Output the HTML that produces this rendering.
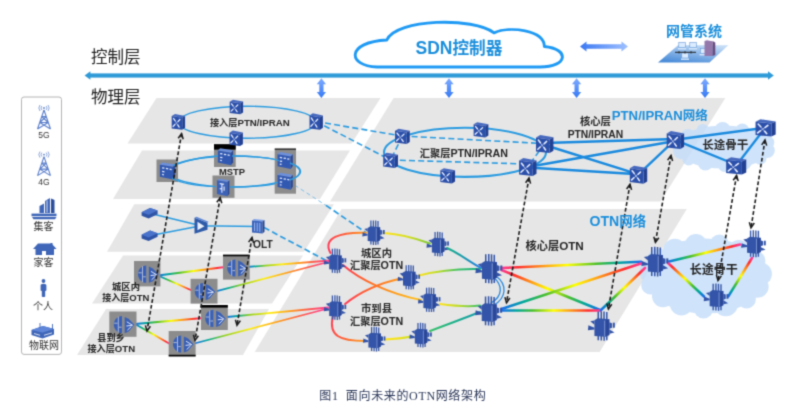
<!DOCTYPE html>
<html lang="zh-CN">
<head>
<meta charset="utf-8">
<title>图1 面向未来的OTN网络架构</title>
<style>
html,body{margin:0;padding:0;background:#fff;}
body{width:795px;height:419px;overflow:hidden;}
svg{display:block;will-change:transform;}
svg text{font-family:"Liberation Sans","Noto Sans CJK SC",sans-serif;}
svg{fill:#262626;}
</style>
</head>
<body>
<svg width="795" height="419" viewBox="0 0 795 419" font-weight="bold" text-anchor="middle">
<defs>
<filter id="soft" x="0" y="0" width="795" height="419" filterUnits="userSpaceOnUse" color-interpolation-filters="sRGB"><feConvolveMatrix order="3" kernelMatrix=".0277 .1110 .0277 .1110 .4452 .1110 .0277 .1110 .0277" divisor="1" edgeMode="duplicate" preserveAlpha="false"/></filter>
<linearGradient id="gh" x1="0" y1="0" x2="1" y2="0"><stop offset="0" stop-color="#3a78f2"/><stop offset="1" stop-color="#9fc0ff"/></linearGradient>
<linearGradient id="gv" x1="0" y1="0" x2="0" y2="1"><stop offset="0" stop-color="#7fabff"/><stop offset="1" stop-color="#3579f4"/></linearGradient>
<linearGradient id="gplat" x1=".75" y1="0" x2=".25" y2="1"><stop offset="0" stop-color="#c4dcf6"/><stop offset="1" stop-color="#4a8cd8"/></linearGradient>
<linearGradient id="r0" gradientUnits="userSpaceOnUse" x1="158" y1="275.5" x2="225" y2="267"><stop offset="0%" stop-color="#1a6cf0"/><stop offset="16%" stop-color="#00a89a"/><stop offset="32%" stop-color="#4cc02a"/><stop offset="53%" stop-color="#ffff00"/><stop offset="72%" stop-color="#ff8c1a"/><stop offset="88%" stop-color="#ff2d2d"/><stop offset="100%" stop-color="#ff3d9a"/></linearGradient>
<linearGradient id="r1" gradientUnits="userSpaceOnUse" x1="158" y1="275.5" x2="193" y2="291"><stop offset="0%" stop-color="#1a6cf0"/><stop offset="16%" stop-color="#00a89a"/><stop offset="32%" stop-color="#4cc02a"/><stop offset="53%" stop-color="#ffff00"/><stop offset="72%" stop-color="#ff8c1a"/><stop offset="88%" stop-color="#ff2d2d"/><stop offset="100%" stop-color="#ff3d9a"/></linearGradient>
<linearGradient id="r2" gradientUnits="userSpaceOnUse" x1="247" y1="267" x2="330" y2="260.5"><stop offset="0%" stop-color="#1a6cf0"/><stop offset="10%" stop-color="#00a89a"/><stop offset="22%" stop-color="#8fd020"/><stop offset="42%" stop-color="#ffee10"/><stop offset="62%" stop-color="#ffa01a"/><stop offset="80%" stop-color="#ff5a4a"/><stop offset="100%" stop-color="#ff3d9a"/></linearGradient>
<linearGradient id="r3" gradientUnits="userSpaceOnUse" x1="215.7" y1="291.4" x2="330" y2="261.5"><stop offset="0%" stop-color="#1a6cf0"/><stop offset="10%" stop-color="#00a89a"/><stop offset="22%" stop-color="#8fd020"/><stop offset="42%" stop-color="#ffee10"/><stop offset="62%" stop-color="#ffa01a"/><stop offset="80%" stop-color="#ff5a4a"/><stop offset="100%" stop-color="#ff3d9a"/></linearGradient>
<linearGradient id="r4" gradientUnits="userSpaceOnUse" x1="135" y1="324" x2="203" y2="318"><stop offset="0%" stop-color="#1a6cf0"/><stop offset="16%" stop-color="#00a89a"/><stop offset="32%" stop-color="#4cc02a"/><stop offset="53%" stop-color="#ffff00"/><stop offset="72%" stop-color="#ff8c1a"/><stop offset="88%" stop-color="#ff2d2d"/><stop offset="100%" stop-color="#ff3d9a"/></linearGradient>
<linearGradient id="r5" gradientUnits="userSpaceOnUse" x1="135" y1="324" x2="170" y2="344"><stop offset="0%" stop-color="#1a6cf0"/><stop offset="16%" stop-color="#00a89a"/><stop offset="32%" stop-color="#4cc02a"/><stop offset="53%" stop-color="#ffff00"/><stop offset="72%" stop-color="#ff8c1a"/><stop offset="88%" stop-color="#ff2d2d"/><stop offset="100%" stop-color="#ff3d9a"/></linearGradient>
<linearGradient id="r6" gradientUnits="userSpaceOnUse" x1="227" y1="317" x2="328" y2="307.5"><stop offset="0%" stop-color="#1a6cf0"/><stop offset="10%" stop-color="#00a89a"/><stop offset="22%" stop-color="#8fd020"/><stop offset="42%" stop-color="#ffee10"/><stop offset="62%" stop-color="#ffa01a"/><stop offset="80%" stop-color="#ff5a4a"/><stop offset="100%" stop-color="#ff3d9a"/></linearGradient>
<linearGradient id="r7" gradientUnits="userSpaceOnUse" x1="194.3" y1="343.5" x2="328" y2="308.5"><stop offset="0%" stop-color="#1a6cf0"/><stop offset="10%" stop-color="#00a89a"/><stop offset="22%" stop-color="#8fd020"/><stop offset="42%" stop-color="#ffee10"/><stop offset="62%" stop-color="#ffa01a"/><stop offset="80%" stop-color="#ff5a4a"/><stop offset="100%" stop-color="#ff3d9a"/></linearGradient>
<linearGradient id="r8" gradientUnits="userSpaceOnUse" x1="328" y1="250" x2="366" y2="233"><stop offset="0%" stop-color="#ff3a5a"/><stop offset="50%" stop-color="#ff5a3a"/><stop offset="100%" stop-color="#ff9a1a"/></linearGradient>
<linearGradient id="r9" gradientUnits="userSpaceOnUse" x1="384" y1="233" x2="430" y2="243"><stop offset="0%" stop-color="#ffe21a"/><stop offset="50%" stop-color="#d8e020"/><stop offset="100%" stop-color="#7cc83a"/></linearGradient>
<linearGradient id="r10" gradientUnits="userSpaceOnUse" x1="447" y1="248" x2="481" y2="268"><stop offset="0%" stop-color="#19b08a"/><stop offset="50%" stop-color="#1a9ab0"/><stop offset="100%" stop-color="#2a7fe8"/></linearGradient>
<linearGradient id="r11" gradientUnits="userSpaceOnUse" x1="343" y1="265" x2="421" y2="300"><stop offset="0%" stop-color="#ff3a5a"/><stop offset="33.3%" stop-color="#ff6a2a"/><stop offset="66.7%" stop-color="#ff9a1a"/><stop offset="100%" stop-color="#ffc21a"/></linearGradient>
<linearGradient id="r12" gradientUnits="userSpaceOnUse" x1="345" y1="304" x2="401" y2="278"><stop offset="0%" stop-color="#ff3a5a"/><stop offset="50%" stop-color="#ff6a2a"/><stop offset="100%" stop-color="#ff9a1a"/></linearGradient>
<linearGradient id="r13" gradientUnits="userSpaceOnUse" x1="419" y1="275" x2="480" y2="269"><stop offset="0%" stop-color="#ffe21a"/><stop offset="33.3%" stop-color="#b6dc2a"/><stop offset="66.7%" stop-color="#3ac06a"/><stop offset="100%" stop-color="#19b08a"/></linearGradient>
<linearGradient id="r14" gradientUnits="userSpaceOnUse" x1="440" y1="304" x2="480" y2="305"><stop offset="0%" stop-color="#ffe21a"/><stop offset="50%" stop-color="#b6dc2a"/><stop offset="100%" stop-color="#3ac06a"/></linearGradient>
<linearGradient id="r15" gradientUnits="userSpaceOnUse" x1="330" y1="316" x2="365" y2="341"><stop offset="0%" stop-color="#ff3a5a"/><stop offset="50%" stop-color="#ff5a3a"/><stop offset="100%" stop-color="#ff9a1a"/></linearGradient>
<linearGradient id="r16" gradientUnits="userSpaceOnUse" x1="385" y1="339" x2="412" y2="336"><stop offset="0%" stop-color="#ffe21a"/><stop offset="50%" stop-color="#f0e21a"/><stop offset="100%" stop-color="#c8e020"/></linearGradient>
<linearGradient id="r17" gradientUnits="userSpaceOnUse" x1="430" y1="331" x2="480" y2="312"><stop offset="0%" stop-color="#3ac06a"/><stop offset="50%" stop-color="#19b08a"/><stop offset="100%" stop-color="#1a9ab0"/></linearGradient>
<linearGradient id="r18" gradientUnits="userSpaceOnUse" x1="501.5" y1="268" x2="641" y2="261.8"><stop offset="0%" stop-color="#ff3d9a"/><stop offset="12%" stop-color="#ff2d2d"/><stop offset="28%" stop-color="#ff8c1a"/><stop offset="47%" stop-color="#ffff00"/><stop offset="68%" stop-color="#4cc02a"/><stop offset="84%" stop-color="#00a89a"/><stop offset="100%" stop-color="#1a6cf0"/></linearGradient>
<linearGradient id="r19" gradientUnits="userSpaceOnUse" x1="501.5" y1="270" x2="600" y2="310"><stop offset="0%" stop-color="#ff3d9a"/><stop offset="12%" stop-color="#ff2d2d"/><stop offset="28%" stop-color="#ff8c1a"/><stop offset="47%" stop-color="#ffff00"/><stop offset="68%" stop-color="#4cc02a"/><stop offset="84%" stop-color="#00a89a"/><stop offset="100%" stop-color="#1a6cf0"/></linearGradient>
<linearGradient id="r20" gradientUnits="userSpaceOnUse" x1="501.5" y1="309" x2="641" y2="263.5"><stop offset="0%" stop-color="#1a6cf0"/><stop offset="16%" stop-color="#00a89a"/><stop offset="32%" stop-color="#4cc02a"/><stop offset="53%" stop-color="#ffff00"/><stop offset="72%" stop-color="#ff8c1a"/><stop offset="88%" stop-color="#ff2d2d"/><stop offset="100%" stop-color="#ff3d9a"/></linearGradient>
<linearGradient id="r21" gradientUnits="userSpaceOnUse" x1="501.5" y1="310.5" x2="600" y2="310.5"><stop offset="0%" stop-color="#1a6cf0"/><stop offset="16%" stop-color="#00a89a"/><stop offset="32%" stop-color="#4cc02a"/><stop offset="53%" stop-color="#ffff00"/><stop offset="72%" stop-color="#ff8c1a"/><stop offset="88%" stop-color="#ff2d2d"/><stop offset="100%" stop-color="#ff3d9a"/></linearGradient>
<linearGradient id="r22" gradientUnits="userSpaceOnUse" x1="601" y1="310" x2="645" y2="268"><stop offset="0%" stop-color="#1a6cf0"/><stop offset="16%" stop-color="#00a89a"/><stop offset="32%" stop-color="#4cc02a"/><stop offset="53%" stop-color="#ffff00"/><stop offset="72%" stop-color="#ff8c1a"/><stop offset="88%" stop-color="#ff2d2d"/><stop offset="100%" stop-color="#ff3d9a"/></linearGradient>
<linearGradient id="r23" gradientUnits="userSpaceOnUse" x1="668" y1="261.8" x2="740" y2="244.5"><stop offset="0%" stop-color="#1a6cf0"/><stop offset="16%" stop-color="#00a89a"/><stop offset="32%" stop-color="#4cc02a"/><stop offset="53%" stop-color="#ffff00"/><stop offset="72%" stop-color="#ff8c1a"/><stop offset="88%" stop-color="#ff2d2d"/><stop offset="100%" stop-color="#ff3d9a"/></linearGradient>
<linearGradient id="r24" gradientUnits="userSpaceOnUse" x1="668" y1="263" x2="704" y2="296.5"><stop offset="0%" stop-color="#ff3d9a"/><stop offset="12%" stop-color="#ff2d2d"/><stop offset="28%" stop-color="#ff8c1a"/><stop offset="47%" stop-color="#ffff00"/><stop offset="68%" stop-color="#4cc02a"/><stop offset="84%" stop-color="#00a89a"/><stop offset="100%" stop-color="#1a6cf0"/></linearGradient>
<linearGradient id="r25" gradientUnits="userSpaceOnUse" x1="752" y1="258" x2="728.3" y2="296.4"><stop offset="0%" stop-color="#ff3d9a"/><stop offset="12%" stop-color="#ff2d2d"/><stop offset="28%" stop-color="#ff8c1a"/><stop offset="47%" stop-color="#ffff00"/><stop offset="68%" stop-color="#4cc02a"/><stop offset="84%" stop-color="#00a89a"/><stop offset="100%" stop-color="#1a6cf0"/></linearGradient>
<symbol id="ptn" overflow="visible"><polygon points="-6.7,-4.7 -3.4,-6.6 6.7,-4.8 3.8,-3.2" fill="#4668be"/><polygon points="3.8,-3.2 6.7,-4.8 6.7,5.5 3.8,7.2" fill="#234194"/><polygon points="-6.7,-4.7 3.8,-3.2 3.8,7.2 -6.7,6" fill="#2c50aa"/><path d="M-5,-2.8L.8,5M1.6,-1.8L-5.4,4.4" stroke="#c4d2f2" stroke-width=".6"/><path d="M-4.9,-2.7L-3.3,-.7M1.5,-1.7L-.3,0M-5.3,4.3L-3.5,2.6M.7,4.9L-.6,3" stroke="#e6ecfb" stroke-width="1.15" stroke-linecap="round"/></symbol>
<symbol id="mstp" overflow="visible"><polygon points="-6.5,-5.5 -4.5,-7.5 6.8,-5.6 5,-3.6" fill="#6d90dc"/><polygon points="5,-3.6 6.8,-5.6 6.8,4.8 5,7.4" fill="#2a4894"/><polygon points="-6.5,-5.5 5,-3.6 5,7.4 -6.5,5" fill="#3259b2"/><path d="M-4.5,-2.8l2,.35M-1.2,-2.2l2,.35M2,-1.6l1.8,.3M-4.5,.4l2,.35M-4.5,3l1.5,.3" stroke="#e8eefc" stroke-width="1.1"/></symbol>
<symbol id="mstp2" overflow="visible"><polygon points="-5.5,-6.5 -3.5,-8 5.8,-6.6 4,-5" fill="#6d90dc"/><polygon points="4,-5 5.8,-6.6 5.8,6 4,8" fill="#2a4894"/><polygon points="-5.5,-6.5 4,-5 4,8 -5.5,6" fill="#3c62b8"/><path d="M-3,-3.5l4,.6M-1,-3.2v8M-3,1l2,.3M1,-1v4" stroke="#e8eefc"/></symbol>
<symbol id="otn" overflow="visible"><g fill="#3354a8"><path d="M-2.2,-12V-5M.3,-12.2V-5M2.6,-12V-5M4.9,-11.6V-5M-2.2,8V12M.3,8V12.3M2.7,8V12.4M4.9,8V12" stroke="#3354a8" stroke-width="1.25" fill="none"/><polygon points="-5.4,-4.6 -2.8,-6.3 7,-5.4 7,7.6 3.2,9.2 -5.4,8.4"/><polygon points="3.2,-4 7,-5.4 7,7.6 3.2,9.2" fill="#2a479a"/><path d="M3.2,-4.4V9" stroke="#8ea6e0" stroke-width=".7"/><polygon points="-8.8,-3.7 -5.4,-4.4 -5.4,-.8"/><polygon points="-10.8,3.8 -10.4,-.4 -5.4,1.6 -5.4,3"/><polygon points="7,-3 9.2,-2.2 9.2,1.6 7,2.4"/><rect x="9.9" y="-2.6" width="1.7" height="4.2"/><polygon points="7,3 11.4,5.6 7,6.6"/></g></symbol>
<symbol id="oacc" overflow="visible"><g fill="#3a60b6"><path d="M-1,-8.2C-5.4,-8.2 -9.2,-4.2 -9.2,.4C-9.2,5 -5.4,9 -1,9Z"/><path d="M1.7,-7.2L5.6,-5.4L11.3,.6L5.6,7.4L1.7,9Z"/><path d="M-4.7,-7.6v15.8M-8.8,-1h3.4M-4,3h2.6" stroke="#b9c3da" stroke-width=".9"/><path d="M3.8,-2.4l5.4,3.2M3.4,1.8l6.4,-.8M4.4,6l4,-3.8" stroke="#eef2fc" stroke-width=".9"/></g></symbol>
<symbol id="dev" overflow="visible"><polygon points="-8,-1 .5,-5.2 8,-2.6 8,1 -1,5.2 -8,2.6" fill="#2f54a6"/><polygon points="-8,-1 .5,-5.2 8,-2.6 -1,1.6" fill="#4a73cc"/></symbol>
</defs>
<g filter="url(#soft)">
<rect width="795" height="419" fill="#fff"/>
<g id="planes">
<polygon points="156.5,98 380.5,98 351.6,143.4 127.5,143.4" fill="#e6e6e6"/>
<polygon points="142,150.5 350,150.5 320,199 113,199" fill="#e6e6e6"/>
<polygon points="134.3,204.3 334,204.3 304,251.8 107,251.8" fill="#e6e6e6"/>
<polygon points="123,255.5 303,255.5 272,303.5 92,303.5" fill="#e6e6e6"/>
<polygon points="106,309 269,309 243,355 77,355" fill="#e6e6e6"/>
<polygon points="393.6,98 725.3,98 660.5,201.4 330,201.4" fill="#e6e6e6"/>
<polygon points="341.6,209 686.8,209 599.6,352 254.7,352" fill="#e6e6e6"/>
</g>
<g id="clouds">
<g fill="#c5defa" opacity="0.82">
<ellipse cx="723.7" cy="147" rx="48.6" ry="21.6"/>
<circle cx="767.3" cy="150.5" r="7.5"/>
<circle cx="760.1" cy="158.3" r="6.4"/>
<circle cx="743.6" cy="161.9" r="8.2"/>
<circle cx="724.8" cy="165.2" r="6.8"/>
<circle cx="705.4" cy="162.9" r="7.5"/>
<circle cx="688.7" cy="159" r="6.4"/>
<circle cx="681.3" cy="151.1" r="8.2"/>
<circle cx="679.4" cy="143.4" r="6.8"/>
<circle cx="688.2" cy="136.4" r="7.5"/>
<circle cx="702.9" cy="130.4" r="6.4"/>
<circle cx="722.6" cy="130.3" r="8.2"/>
<circle cx="742.3" cy="130.4" r="6.8"/>
<circle cx="757.8" cy="135.8" r="7.5"/>
<circle cx="767.9" cy="142.4" r="6.4"/>
</g>
<g fill="#c5defa" opacity="0.82">
<ellipse cx="705.5" cy="276" rx="61.5" ry="37.5"/>
<circle cx="757.6" cy="286.8" r="11"/>
<circle cx="746.6" cy="299.1" r="9.3"/>
<circle cx="725.8" cy="304.2" r="12.1"/>
<circle cx="703.5" cy="308.6" r="9.9"/>
<circle cx="681.4" cy="303.8" r="11.6"/>
<circle cx="663" cy="296.2" r="11"/>
<circle cx="650.5" cy="285.1" r="9.3"/>
<circle cx="651.6" cy="271.7" r="12.1"/>
<circle cx="657.5" cy="258.7" r="9.9"/>
<circle cx="674.8" cy="250.3" r="11.6"/>
<circle cx="695.9" cy="245" r="11"/>
<circle cx="719.4" cy="243.8" r="9.3"/>
<circle cx="739" cy="252.1" r="12.1"/>
<circle cx="755.5" cy="260.7" r="9.9"/>
<circle cx="760.3" cy="273.9" r="11.6"/>
</g>
</g>
<g id="mainline" fill="#2f9ad8">
<rect x="89" y="73.4" width="680" height="4.2"/>
<polygon points="84.6,75.5 90.4,71.2 90.4,79.8" fill="#2f9ad8"/>
<polygon points="773.8,75.5 768,71.2 768,79.8" fill="#2f9ad8"/>
</g>
<text x="91" y="62.8" font-size="16.5" font-weight="normal" fill="#222" text-anchor="start">控制层</text>
<text x="91" y="103.2" font-size="16.5" font-weight="normal" fill="#222" text-anchor="start">物理层</text>
<path d="M377,67 C347,66 346,42 386.8,40 C396,18.5 474,17 494,32.8 C510,26 544,30 544.4,46.5 C570,49 568,67 540,67 Z" fill="#fff" stroke="#1f9af4" stroke-width="2.9" stroke-linejoin="round"/>
<text x="459" y="53.6" font-size="16.7" fill="#1b8fdc"><tspan font-size="17.5">SDN</tspan>控制器</text>
<polygon points="580,46.5 586.5,41.4 586.5,44.2 621.5,44.2 621.5,41.4 628,46.5 621.5,51.6 621.5,48.8 586.5,48.8 586.5,51.6" fill="url(#gh)"/>
<text x="694" y="35.5" font-size="14" fill="#1b8fdc">网管系统</text>
<g id="nms">
<polygon points="658,62.4 709.5,62.4 728.3,45.3 678,45.3" fill="url(#gplat)"/>
<rect x="678.8" y="42.5" width="6.5" height="5" fill="#dcecff" stroke="#6a9ad6" stroke-width=".6"/>
<rect x="678" y="48" width="8" height="1.4" fill="#d8e8fb"/>
<rect x="689.8" y="42.5" width="6.5" height="5" fill="#dcecff" stroke="#6a9ad6" stroke-width=".6"/>
<rect x="689" y="48" width="8" height="1.4" fill="#d8e8fb"/>
<rect x="681.8" y="53" width="6.5" height="5" fill="#dcecff" stroke="#6a9ad6" stroke-width=".6"/>
<rect x="681" y="58.5" width="8" height="1.4" fill="#d8e8fb"/>
<rect x="700.3" y="48.5" width="6.5" height="5" fill="#dcecff" stroke="#6a9ad6" stroke-width=".6"/>
<rect x="699.5" y="54" width="8" height="1.4" fill="#d8e8fb"/>
<path d="M675,52.3H696" stroke="#222"/>
<path d="M679,51v2.6M685,51v2.6M691,51v2.6" stroke="#222" stroke-width=".8"/>
<rect x="704.5" y="41" width="8" height="15" fill="#9478ac"/><polygon points="712.5,41 715.3,42.5 715.3,55 712.5,56" fill="#674d80"/><polygon points="704.5,41 707,39.8 715.3,42.5 712.5,41" fill="#bfaad0"/>
</g>
<polygon points="321.4,78.3 326,84.2 323.5,84.2 323.5,92 326,92 321.4,97.9 316.8,92 319.3,92 319.3,84.2 316.8,84.2" fill="url(#gv)"/>
<polygon points="449,78.3 453.6,84.2 451.1,84.2 451.1,92 453.6,92 449,97.9 444.4,92 446.9,92 446.9,84.2 444.4,84.2" fill="url(#gv)"/>
<polygon points="576.6,78.3 581.2,84.2 578.7,84.2 578.7,92 581.2,92 576.6,97.9 572,92 574.5,92 574.5,84.2 572,84.2" fill="url(#gv)"/>
<polygon points="705,78.3 709.6,84.2 707.1,84.2 707.1,92 709.6,92 705,97.9 700.4,92 702.9,92 702.9,84.2 700.4,84.2" fill="url(#gv)"/>
<g id="legend">
<rect x="21.5" y="97" width="40" height="257.4" rx="2.5" fill="#fff" stroke="#b4b4b4"/>
<g stroke="#5b7fcc" fill="none" stroke-width="1.1">
<path d="M44,110L37.5,129M44,110L50.5,129M39.8,122.5L48.2,122.5M39.8,122.5L50.5,129M48.2,122.5L37.5,129M41.7,116.5L46.3,116.5M41.7,116.5L48.2,122.5M46.3,116.5L39.8,122.5"/>
<circle cx="44" cy="108" r=".9" fill="#5b7fcc" stroke="none"/>
<path d="M41.8,106q-1.6,2 0,4M46.2,106q1.6,2 0,4M40,105q-2.4,3 0,6M48,105q2.4,3 0,6" stroke-width=".7"/>
</g>
<text x="44" y="138.4" font-size="8.5" font-weight="normal" fill="#333" style="font-family:'Liberation Sans',sans-serif">5G</text>
<g stroke="#5b7fcc" fill="none" stroke-width="1.1">
<path d="M44,156.6L37.5,175.6M44,156.6L50.5,175.6M39.8,169.1L48.2,169.1M39.8,169.1L50.5,175.6M48.2,169.1L37.5,175.6M41.7,163.1L46.3,163.1M41.7,163.1L48.2,169.1M46.3,163.1L39.8,169.1"/>
<circle cx="44" cy="154.6" r=".9" fill="#5b7fcc" stroke="none"/>
<path d="M41.8,152.6q-1.6,2 0,4M46.2,152.6q1.6,2 0,4M40,151.6q-2.4,3 0,6M48,151.6q2.4,3 0,6" stroke-width=".7"/>
</g>
<text x="44" y="185" font-size="8.5" font-weight="normal" fill="#333" style="font-family:'Liberation Sans',sans-serif">4G</text>
<g fill="#3f66b8">
<polygon points="45,201 50,198 50,213 45,213"/>
<polygon points="51,198.5 54.5,200 54.5,213 51,213" fill="#2d4e9a"/>
<polygon points="39.5,206 44,203.5 44,213 39.5,213"/>
<rect x="31.5" y="213.6" width="25" height="2.6"/><path d="M32,217h24.5l-1.5,2.2h-21.5z"/>
<path d="M47,200.5v12" stroke="#fff" stroke-width=".8"/>
</g>
<text x="43.5" y="229.8" font-size="10" font-weight="normal" fill="#333">集客</text>
<g fill="#3f66b8">
<polygon points="33,249 38,243.6 51.5,243.6 56.6,249"/>
<rect x="35.5" y="249" width="18.5" height="6"/><rect x="42" y="251" width="4" height="4" fill="#fff"/>
<rect x="50.5" y="243" width="2" height="2.5"/>
</g>
<text x="43.5" y="266.4" font-size="10" font-weight="normal" fill="#333">家客</text>
<g fill="#3f66b8">
<circle cx="43.5" cy="281" r="1.9"/>
<path d="M40.6,285.5q0,-1.8 2.9,-1.8q2.9,0 2.9,1.8v5l-1.2,.6v5.4q-1.7,1 -3.4,0v-5.4l-1.2,-.6z"/>
</g>
<text x="43" y="309.8" font-size="10" font-weight="normal" fill="#333">个人</text>
<g fill="#3f66b8">
<polygon points="31.5,330 43,326 54,329 54,334.5 42.5,338.4 31.5,335"/>
<polygon points="31.5,330 43,326 54,329 42.5,332.6" fill="#5f86d8"/>
<path d="M40,323v5M52.5,324v5" stroke="#3f66b8" stroke-width=".9"/>
<path d="M34,333.5l6,1.8M44,335.3l8,-2.4" stroke="#fff" stroke-width=".8"/>
</g>
<text x="44" y="348.8" font-size="10" font-weight="normal" fill="#333">物联网</text>
</g>
<g stroke="#2a9be0" stroke-width="1.6" fill="none" stroke-dasharray="6,3.2">
<path d="M316,121.5L402,136M316,121.5L390.6,160M402.4,136L544,143.6M390.6,160L527,164M402.4,136L390.6,160M544.7,143.6L527.8,166.7"/>
<path d="M264,227.5L327,261" stroke-width="1.7"/>
<path d="M289,181.5L330,208" stroke-width="1" stroke="#7cc0ea" stroke-dasharray="4,3"/>
<path d="M326,205.4L366,232.6" stroke-width="1.7"/>
</g>
<g stroke="#2a9be0" fill="none">
<ellipse cx="247.3" cy="122.2" rx="68.8" ry="16" stroke-width="1.4"/>
<ellipse cx="234.5" cy="171.5" rx="66" ry="15.5" stroke-width="1.4"/>
<ellipse cx="465" cy="152.3" rx="81" ry="24.6" stroke-width="2.1"/>
<path d="M544.7,143L675,139M544.7,145L638.5,174.3M527.8,167L675,141M527.8,167.5L638.5,174.3M638.5,174.3L675,139.8M675,139.8L765.3,127.7M675,139.8L736.6,165M765.3,127.7L736.6,165" stroke-width="2.4" stroke="#1a8ade"/>
<path d="M149.6,213.2L201,225.8M149.6,235.8L201,225.8M201,225.8L258,226.5" stroke-width="1.5"/>
</g>
<g id="rainbows" fill="none" stroke-linecap="round">
<path d="M158,275.5L225,267" stroke="url(#r0)" stroke-width="1.8"/>
<path d="M158,275.5L193,291" stroke="url(#r1)" stroke-width="1.8"/>
<path d="M247,267L330,260.5" stroke="url(#r2)" stroke-width="1.8"/>
<path d="M215.7,291.4L330,261.5" stroke="url(#r3)" stroke-width="1.8"/>
<path d="M135,324L203,318" stroke="url(#r4)" stroke-width="1.8"/>
<path d="M135,324L170,344" stroke="url(#r5)" stroke-width="1.8"/>
<path d="M227,317L328,307.5" stroke="url(#r6)" stroke-width="1.8"/>
<path d="M194.3,343.5L328,308.5" stroke="url(#r7)" stroke-width="1.8"/>
<path d="M330.5,253C322,238 340,232 366,232.8" stroke="url(#r8)" stroke-width="2"/>
<path d="M384,233C400,234 415,238 430,243.5" stroke="url(#r9)" stroke-width="2"/>
<path d="M447,248C460,254 470,262 481,268" stroke="url(#r10)" stroke-width="2"/>
<path d="M343,265C360,280 390,294 421,300" stroke="url(#r11)" stroke-width="2"/>
<path d="M345,304C360,292 380,283 401,278.5" stroke="url(#r12)" stroke-width="2"/>
<path d="M419,275.5C440,270 460,268.5 480,269" stroke="url(#r13)" stroke-width="2"/>
<path d="M440,304C455,306 468,307 480,305.5" stroke="url(#r14)" stroke-width="2"/>
<path d="M333,316C328,336 340,341 365,341" stroke="url(#r15)" stroke-width="2"/>
<path d="M385,339.5C395,339 404,338 412,336.5" stroke="url(#r16)" stroke-width="2"/>
<path d="M430,331C448,324 465,318 480,312" stroke="url(#r17)" stroke-width="2"/>
<path d="M493,277C503,285 503,296 491,303M496,276C508,285 506,298 494,305" stroke="#2a8ae0" stroke-width="1.3"/>
<path d="M501.5,268L641,261.8" stroke="url(#r18)" stroke-width="2.6"/>
<path d="M501.5,270L600,310" stroke="url(#r19)" stroke-width="2.6"/>
<path d="M501.5,309L641,263.5" stroke="url(#r20)" stroke-width="2.6"/>
<path d="M501.5,310.5L600,310.5" stroke="url(#r21)" stroke-width="2.6"/>
<path d="M601,310L645,268" stroke="url(#r22)" stroke-width="2.6"/>
<path d="M668,261.8L740,244.5" stroke="url(#r23)" stroke-width="2.6"/>
<path d="M668,263L704,296.5" stroke="url(#r24)" stroke-width="2.6"/>
<path d="M752,258L728.3,296.4" stroke="url(#r25)" stroke-width="2.6"/>
</g>
<g id="nodes">
<rect x="156.5" y="159.5" width="21.5" height="22.5" fill="#8c8c8c"/>
<rect x="214" y="144.2" width="21.7" height="22.8" fill="#8c8c8c"/>
<rect x="214" y="144.2" width="21.7" height="5.4" fill="#000"/>
<rect x="212.5" y="175.5" width="22" height="22.3" fill="#8c8c8c"/>
<rect x="274.7" y="148.6" width="21.3" height="45.1" fill="#8c8c8c"/>
<rect x="274.7" y="148.6" width="21.3" height="1" fill="#000"/>
<use href="#mstp" transform="translate(167.3,171) scale(1.15)"/>
<use href="#mstp" transform="translate(225.3,156.8) scale(1.15)"/>
<use href="#mstp2" transform="translate(223,187.5) scale(1.1)"/>
<use href="#mstp" transform="translate(285,160.6) scale(1.15)"/>
<use href="#mstp" transform="translate(285,181.3) scale(1.15)"/>
<path d="M173,165.6C190,158.5 212,156.2 218,156M232,156C252,156 270,158 279,160.6M290,163C303,168 303,175 290,180M278,182.4C262,186 245,187 230,187M216,186.6C198,186 180,183 172,178" stroke="#2a9be0" fill="none" stroke-width="1.4"/>
<use href="#ptn" transform="translate(236.4,106.6) scale(1,1.05)"/>
<use href="#ptn" transform="translate(178.4,121.5) scale(1,1.15)"/>
<use href="#ptn" transform="translate(316.2,121.2) scale(1,1.2)"/>
<use href="#ptn" transform="translate(236.2,138) scale(1,1.12)"/>
<use href="#ptn" transform="translate(402.4,136) scale(1.1)"/>
<use href="#ptn" transform="translate(390.6,160) scale(1.1)"/>
<use href="#ptn" transform="translate(481,129.5) scale(1.1)"/>
<use href="#ptn" transform="translate(447.7,175.5) scale(1.1)"/>
<use href="#ptn" transform="translate(544.7,143.6) scale(1.3)"/>
<use href="#ptn" transform="translate(527.8,166.7) scale(1.3)"/>
<use href="#ptn" transform="translate(638.5,174.3) scale(1.3)"/>
<use href="#ptn" transform="translate(675.4,139.7) scale(1.3)"/>
<use href="#ptn" transform="translate(765.6,127.5) scale(1.5,1.25)"/>
<use href="#ptn" transform="translate(736.2,165.6) scale(1.5,1.25)"/>
<use href="#dev" x="149.6" y="213.2"/>
<use href="#dev" x="149.6" y="235.8"/>
<g transform="translate(201,225.8)"><polygon points="-6.5,-8 6.5,-3 6.5,4 -6.5,8" fill="#2e5aa8"/><polygon points="-3.5,-4 3.5,.5 -3.5,4.5" fill="#e9f0fb"/><polygon points="-6.5,-8 -4.5,-9 7.5,-4 6.5,-3" fill="#5d86d4"/></g>
<g transform="translate(258,226.5)"><polygon points="-6,-6 -4,-7.5 6.5,-6.5 4.5,-5" fill="#7fa2ea"/><polygon points="-6,-6 4.5,-5 4.5,7 -6,6" fill="#3b63ba"/><polygon points="4.5,-5 6.5,-6.5 6.5,5.2 4.5,7" fill="#27468f"/><path d="M-3.4,-4v8.6M-.8,-3.8v8.8M1.8,-3.6v9" stroke="#9db9f2"/></g>
<rect x="134" y="261" width="26.4" height="25.4" fill="#8c8c8c"/>
<use href="#oacc" x="147.2" y="273.8"/>
<rect x="223" y="254.7" width="26.7" height="24.9" fill="#8c8c8c"/>
<rect x="223" y="254.7" width="26.7" height="1.6" fill="#000"/>
<use href="#oacc" x="236.4" y="267.6"/>
<rect x="190.6" y="278.8" width="26.9" height="24.8" fill="#8c8c8c"/>
<use href="#oacc" x="204" y="291.2"/>
<rect x="109.3" y="311.5" width="27.2" height="25.3" fill="#8c8c8c"/>
<use href="#oacc" x="123" y="324.2"/>
<rect x="201" y="305" width="26.8" height="25" fill="#8c8c8c"/>
<rect x="201" y="305" width="26.8" height="2.6" fill="#000"/>
<use href="#oacc" x="214.4" y="318"/>
<rect x="168.7" y="331" width="26.9" height="25.4" fill="#8c8c8c"/>
<rect x="168.7" y="354.8" width="26.9" height="1.6" fill="#000"/>
<use href="#oacc" x="182.2" y="343.6"/>
<use href="#otn" x="334.6" y="260.8"/>
<use href="#otn" x="373.1" y="232.6"/>
<use href="#otn" x="437.3" y="244"/>
<use href="#otn" x="408.4" y="277.2"/>
<use href="#otn" x="428.8" y="299.7"/>
<use href="#otn" x="334.6" y="307.5"/>
<use href="#otn" x="373.8" y="339"/>
<use href="#otn" x="420.2" y="335"/>
<use href="#otn" transform="translate(488.4,268.6) scale(1.2)"/>
<use href="#otn" transform="translate(488.2,310.8) scale(1.2)"/>
<use href="#otn" transform="translate(600.9,325.8) scale(1.2)"/>
<use href="#otn" transform="translate(654.4,261.5) scale(1.2)"/>
<use href="#otn" transform="translate(753,243.6) scale(1.1)"/>
<use href="#otn" transform="translate(715.6,297) scale(1.1)"/>
</g>
<g id="darrows" stroke="#1c1c1c" stroke-width="1.6" fill="none">
<path d="M181.6,133.6L147,331" stroke-dasharray="3.8,2.2"/>
<path d="M150.4,326.3L147,331L145.4,325.4M178.2,138.3L181.6,133.6L183.2,139.2" stroke-width="1.5"/>
<path d="M220.2,197.6L195,340.4" stroke-dasharray="3.8,2.2"/>
<path d="M198.4,335.7L195,340.4L193.4,334.8M216.8,202.3L220.2,197.6L221.8,203.2" stroke-width="1.5"/>
<path d="M252,237.4L237,325.3" stroke-dasharray="3.8,2.2"/>
<path d="M240.4,320.6L237,325.3L235.4,319.7M248.6,242.1L252,237.4L253.6,243" stroke-width="1.5"/>
<path d="M529,178L506.5,302.7" stroke-dasharray="3.8,2.2"/>
<path d="M509.9,298L506.5,302.7L504.9,297.1M525.6,182.7L529,178L530.6,183.6" stroke-width="1.5"/>
<path d="M630,184.3L608.4,309" stroke-dasharray="3.8,2.2"/>
<path d="M611.8,304.3L608.4,309L606.8,303.4M626.6,189L630,184.3L631.6,189.9" stroke-width="1.5"/>
<path d="M671,155.4L655.4,242.4" stroke-dasharray="3.8,2.2"/>
<path d="M658.8,237.7L655.4,242.4L653.8,236.8M667.6,160.1L671,155.4L672.6,161" stroke-width="1.5"/>
<path d="M736.6,175.5L718,280.6" stroke-dasharray="3.8,2.2"/>
<path d="M721.4,275.9L718,280.6L716.4,275M733.2,180.2L736.6,175.5L738.2,181.1" stroke-width="1.5"/>
<path d="M765,140L751,227.8" stroke-dasharray="3.8,2.2"/>
<path d="M754.3,223L751,227.8L749.3,222.2M761.7,144.8L765,140L766.7,145.6" stroke-width="1.5"/>
</g>
<g id="labels">
<text x="249.8" y="125.8" font-size="9.2">接入层<tspan font-size="9.7">PTN/IPRAN</tspan></text>
<text x="232" y="175.3" font-size="9.4">MSTP</text>
<text x="262.9" y="247.8" font-size="10.2">OLT</text>
<text x="126" y="290.4" font-size="9.3">城区内</text>
<text x="125.8" y="301.2" font-size="9.0">接入层<tspan font-size="9.5">OTN</tspan></text>
<text x="111" y="340.8" font-size="9.1">县到乡</text>
<text x="111.3" y="352.4" font-size="9.1">接入层<tspan font-size="9.6">OTN</tspan></text>
<text x="463.9" y="156.8" font-size="10.2">汇聚层<tspan font-size="10.7">PTN/IPRAN</tspan></text>
<text x="595.4" y="125.2" font-size="10.3">核心层</text>
<text x="595.4" y="137.8" font-size="10.3">PTN/IPRAN</text>
<text x="659.8" y="119.7" font-size="12.5" fill="#1b8fdc"><tspan font-size="13.2">PTN/IPRAN</tspan>网络</text>
<text x="725.3" y="149.3" font-size="11.5">长途骨干</text>
<text x="376.5" y="256.8" font-size="10.3">城区内</text>
<text x="376.6" y="268.8" font-size="10.2">汇聚层<tspan font-size="10.7">OTN</tspan></text>
<text x="376.5" y="312.3" font-size="10.3">市到县</text>
<text x="376.6" y="324.8" font-size="10.2">汇聚层<tspan font-size="10.7">OTN</tspan></text>
<text x="554.7" y="250.1" font-size="11.2">核心层<tspan font-size="11.7">OTN</tspan></text>
<text x="617.8" y="226.4" font-size="13.4" fill="#1b8fdc"><tspan font-size="14.1">OTN</tspan>网络</text>
<text x="713.8" y="274.2" font-size="12">长途骨干</text>
</g>
<text x="402.8" y="400.4" font-size="12" font-weight="normal" fill="#2a3658" style="font-family:'Liberation Serif','Noto Sans CJK SC',serif" letter-spacing=".65">图1&#160;&#160;面向未来的OTN网络架构</text>
</g>
</svg>
</body>
</html>
